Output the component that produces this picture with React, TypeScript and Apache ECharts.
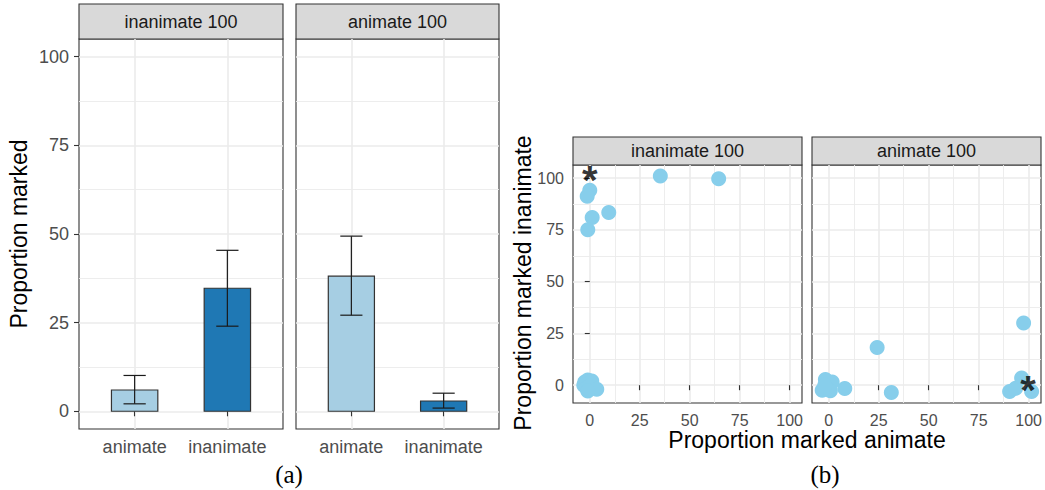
import React, { useEffect, useRef } from 'react';
import * as echarts from 'echarts';

// ---------- data ----------
const facetLabels = ['inanimate 100', 'animate 100'];
const barCategories = ['animate', 'inanimate'];
const barPositions = [1, 2];
const barColors = ['#A6CEE3', '#1F78B4'];

const inanimate100Mean = [6.0, 34.7];
const inanimate100Lower = [2.1, 24.0];
const inanimate100Upper = [10.1, 45.4];

const animate100Mean = [38.1, 2.9];
const animate100Lower = [27.1, 0.9];
const animate100Upper = [49.4, 5.1];

const majorTicks = [0, 25, 50, 75, 100];
const minorTicks = [12.5, 37.5, 62.5, 87.5];

// scatter: [proportion marked animate, proportion marked inanimate]
const inanimate100Points = [
  [35.3, 101.1], [64.5, 99.7], [0.0, 94.2], [-1.3, 91.3], [1.2, 81.0],
  [9.5, 83.4], [-1.0, 75.1],
  [-2.5, 1.5], [-1.0, 2.5], [1.0, 2.0], [-3.0, 0.0], [-1.5, -1.5],
  [0.0, -0.5], [3.5, -2.0], [-1.0, -2.8],
];
const animate100Points = [
  [97.5, 30.1], [24.2, 18.2], [31.3, -3.5], [8.0, -1.6],
  [-1.7, 2.7], [1.7, 1.6], [-3.3, -2.4], [0.8, -2.7], [-2.0, 0.0],
  [90.5, -3.0], [93.5, -1.5], [96.5, 3.5], [101.5, -3.0],
];
const inanimate100Asterisk = [[0, 102.4]];
const animate100Asterisk = [[99.7, 1.1]];

// ---------- styles ----------
const SANS = '"Liberation Sans", Arial, Helvetica, sans-serif';
const SERIF = '"Liberation Serif", "Times New Roman", serif';
const GRID_COLOR = '#EBEBEB';
const BORDER = '#333333';

const barGrids = [
  { left: 79, top: 39, width: 204, height: 390 },
  { left: 296, top: 39, width: 203, height: 390 },
];
const scatterGrids = [
  { left: 573, top: 165, width: 229, height: 238 },
  { left: 812, top: 165, width: 229, height: 238 },
];

function majorAxis(type: 'x' | 'y', gridIndex: number, min: number, max: number,
  values: number[], showLabels: boolean, showTicks: boolean, fontSize: number,
  formatter?: (v: number) => string, margin?: number) {
  return {
    type: 'value',
    gridIndex,
    min,
    max,
    position: type === 'x' ? 'bottom' : 'left',
    axisLine: { show: false },
    axisTick: {
      show: showTicks,
      customValues: values,
      length: 5,
      lineStyle: { color: BORDER, width: 1.1 },
    },
    axisLabel: {
      show: showLabels,
      customValues: values,
      color: '#4D4D4D',
      fontSize,
      fontFamily: SANS,
      margin: margin ?? 8,
      formatter: formatter ?? ((v: number) => String(v)),
    },
    splitLine: { show: true, lineStyle: { color: GRID_COLOR, width: 1.6 } },
    minorSplitLine: { show: false },
  };
}

function minorAxis(type: 'x' | 'y', gridIndex: number, min: number, max: number, values: number[]) {
  return {
    type: 'value',
    gridIndex,
    min,
    max,
    position: type === 'x' ? 'top' : 'right',
    axisLine: { show: false },
    axisTick: { show: false, customValues: values },
    axisLabel: { show: false, customValues: values },
    splitLine: { show: true, lineStyle: { color: GRID_COLOR, width: 0.9 } },
  };
}

function barSeries(xi: number, yi: number, means: number[]) {
  return {
    type: 'custom',
    xAxisIndex: xi,
    yAxisIndex: yi,
    encode: { x: 0, y: 1 },
    data: barPositions.map((p, i) => [p, means[i], i]),
    renderItem: (params: any, api: any) => {
      const x = api.value(0);
      const y = api.value(1);
      const ci = api.value(2);
      const tl = api.coord([x - 0.25, y]);
      const br = api.coord([x + 0.25, 0]);
      return {
        type: 'rect',
        shape: { x: tl[0], y: tl[1], width: br[0] - tl[0], height: br[1] - tl[1] },
        style: { fill: barColors[ci], stroke: BORDER, lineWidth: 1.2 },
      };
    },
  };
}

function errorSeries(xi: number, yi: number, lower: number[], upper: number[]) {
  return {
    type: 'custom',
    xAxisIndex: xi,
    yAxisIndex: yi,
    encode: { x: 0, y: [1, 2] },
    z: 3,
    data: barPositions.map((p, i) => [p, lower[i], upper[i]]),
    renderItem: (params: any, api: any) => {
      const x = api.value(0);
      const lo = api.value(1);
      const hi = api.value(2);
      const top = api.coord([x, hi]);
      const bot = api.coord([x, lo]);
      const hw = api.coord([x + 0.12, hi])[0] - top[0];
      const st = { stroke: '#1A1A1A', lineWidth: 1.2 };
      return {
        type: 'group',
        children: [
          { type: 'line', shape: { x1: top[0], y1: top[1], x2: bot[0], y2: bot[1] }, style: st },
          { type: 'line', shape: { x1: top[0] - hw, y1: top[1], x2: top[0] + hw, y2: top[1] }, style: st },
          { type: 'line', shape: { x1: bot[0] - hw, y1: bot[1], x2: bot[0] + hw, y2: bot[1] }, style: st },
        ],
      };
    },
  };
}

function scatterSeries(xi: number, yi: number, pts: number[][]) {
  return {
    type: 'scatter',
    xAxisIndex: xi,
    yAxisIndex: yi,
    symbolSize: 15,
    itemStyle: { color: '#87CEEB', opacity: 1 },
    data: pts,
    z: 3,
  };
}

function asteriskSeries(xi: number, yi: number, pts: number[][]) {
  return {
    type: 'scatter',
    xAxisIndex: xi,
    yAxisIndex: yi,
    symbolSize: 1,
    itemStyle: { color: 'rgba(0,0,0,0)' },
    z: 5,
    data: pts,
    label: {
      show: true,
      position: 'inside',
      formatter: '*',
      fontSize: 40,
      lineHeight: 18,
      fontWeight: 'bold',
      color: '#000000',
      fontFamily: SANS,
      offset: [0, 7],
    },
  };
}

function strip(g: { left: number; top: number; width: number }, top: number, h: number, text: string) {
  return [
    {
      type: 'rect',
      shape: { x: g.left, y: top, width: g.width, height: h },
      style: { fill: '#D9D9D9', stroke: BORDER, lineWidth: 1.1 },
    },
    {
      type: 'text',
      x: g.left + g.width / 2,
      y: top + h / 2,
      style: {
        text,
        fill: '#1A1A1A',
        fontSize: 18,
        fontFamily: SANS,
        textAlign: 'center',
        textVerticalAlign: 'middle',
      },
    },
  ];
}

export default function App() {
  const ref = useRef<HTMLDivElement>(null);

  useEffect(() => {
    if (!ref.current) return;
    const chart = echarts.init(ref.current, undefined, { renderer: 'svg' });
    const catFmt = (v: number) => barCategories[Math.round(v) - 1] ?? '';

    const grids = [...barGrids, ...scatterGrids].map((g) => ({
      ...g,
      show: true,
      backgroundColor: '#FFFFFF',
      borderColor: BORDER,
      borderWidth: 1.1,
      containLabel: false,
    }));

    const option: any = {
      animation: false,
      backgroundColor: '#FFFFFF',
      grid: grids,
      xAxis: [
        majorAxis('x', 0, 0.4, 2.6, barPositions, true, true, 18, catFmt, 9),
        majorAxis('x', 1, 0.4, 2.6, barPositions, true, true, 18, catFmt, 9),
        majorAxis('x', 2, -8.4, 106.2, majorTicks, true, true, 16, undefined, 9),
        majorAxis('x', 3, -8.4, 106.2, majorTicks, true, true, 16, undefined, 9),
        minorAxis('x', 2, -8.4, 106.2, minorTicks),
        minorAxis('x', 3, -8.4, 106.2, minorTicks),
      ],
      yAxis: [
        majorAxis('y', 0, -5, 105, majorTicks, true, true, 18, undefined, 10),
        majorAxis('y', 1, -5, 105, majorTicks, false, false, 18),
        minorAxis('y', 0, -5, 105, minorTicks),
        minorAxis('y', 1, -5, 105, minorTicks),
        majorAxis('y', 2, -8.6, 106.4, majorTicks, true, true, 16, undefined, 9),
        majorAxis('y', 3, -8.6, 106.4, majorTicks, false, false, 16),
        minorAxis('y', 2, -8.6, 106.4, minorTicks),
        minorAxis('y', 3, -8.6, 106.4, minorTicks),
      ],
      series: [
        barSeries(0, 0, inanimate100Mean),
        errorSeries(0, 0, inanimate100Lower, inanimate100Upper),
        barSeries(1, 1, animate100Mean),
        errorSeries(1, 1, animate100Lower, animate100Upper),
        scatterSeries(2, 4, inanimate100Points),
        scatterSeries(3, 5, animate100Points),
        asteriskSeries(2, 4, inanimate100Asterisk),
        asteriskSeries(3, 5, animate100Asterisk),
      ],
      graphic: [
        ...strip(barGrids[0], 4, 35, facetLabels[0]),
        ...strip(barGrids[1], 4, 35, facetLabels[1]),
        ...strip(scatterGrids[0], 137, 28, facetLabels[0]),
        ...strip(scatterGrids[1], 137, 28, facetLabels[1]),
        {
          type: 'text', x: 19, y: 234, rotation: Math.PI / 2,
          style: { text: 'Proportion marked', fill: '#000', fontSize: 23, fontFamily: SANS, textAlign: 'center', textVerticalAlign: 'middle' },
        },
        {
          type: 'text', x: 523, y: 283, rotation: Math.PI / 2,
          style: { text: 'Proportion marked inanimate', fill: '#000', fontSize: 23, fontFamily: SANS, textAlign: 'center', textVerticalAlign: 'middle' },
        },
        {
          type: 'text', x: 807, y: 440,
          style: { text: 'Proportion marked animate', fill: '#000', fontSize: 23, fontFamily: SANS, textAlign: 'center', textVerticalAlign: 'middle' },
        },
        {
          type: 'text', x: 289, y: 474,
          style: { text: '(a)', fill: '#000', fontSize: 25, fontFamily: SERIF, textAlign: 'center', textVerticalAlign: 'middle' },
        },
        {
          type: 'text', x: 825, y: 474,
          style: { text: '(b)', fill: '#000', fontSize: 25, fontFamily: SERIF, textAlign: 'center', textVerticalAlign: 'middle' },
        },
      ],
    };
    chart.setOption(option);
    return () => chart.dispose();
  }, []);

  return (
    <div
      ref={ref}
      style={{ position: 'absolute', left: 0, top: 0, width: 1045, height: 490 }}
    />
  );
}
